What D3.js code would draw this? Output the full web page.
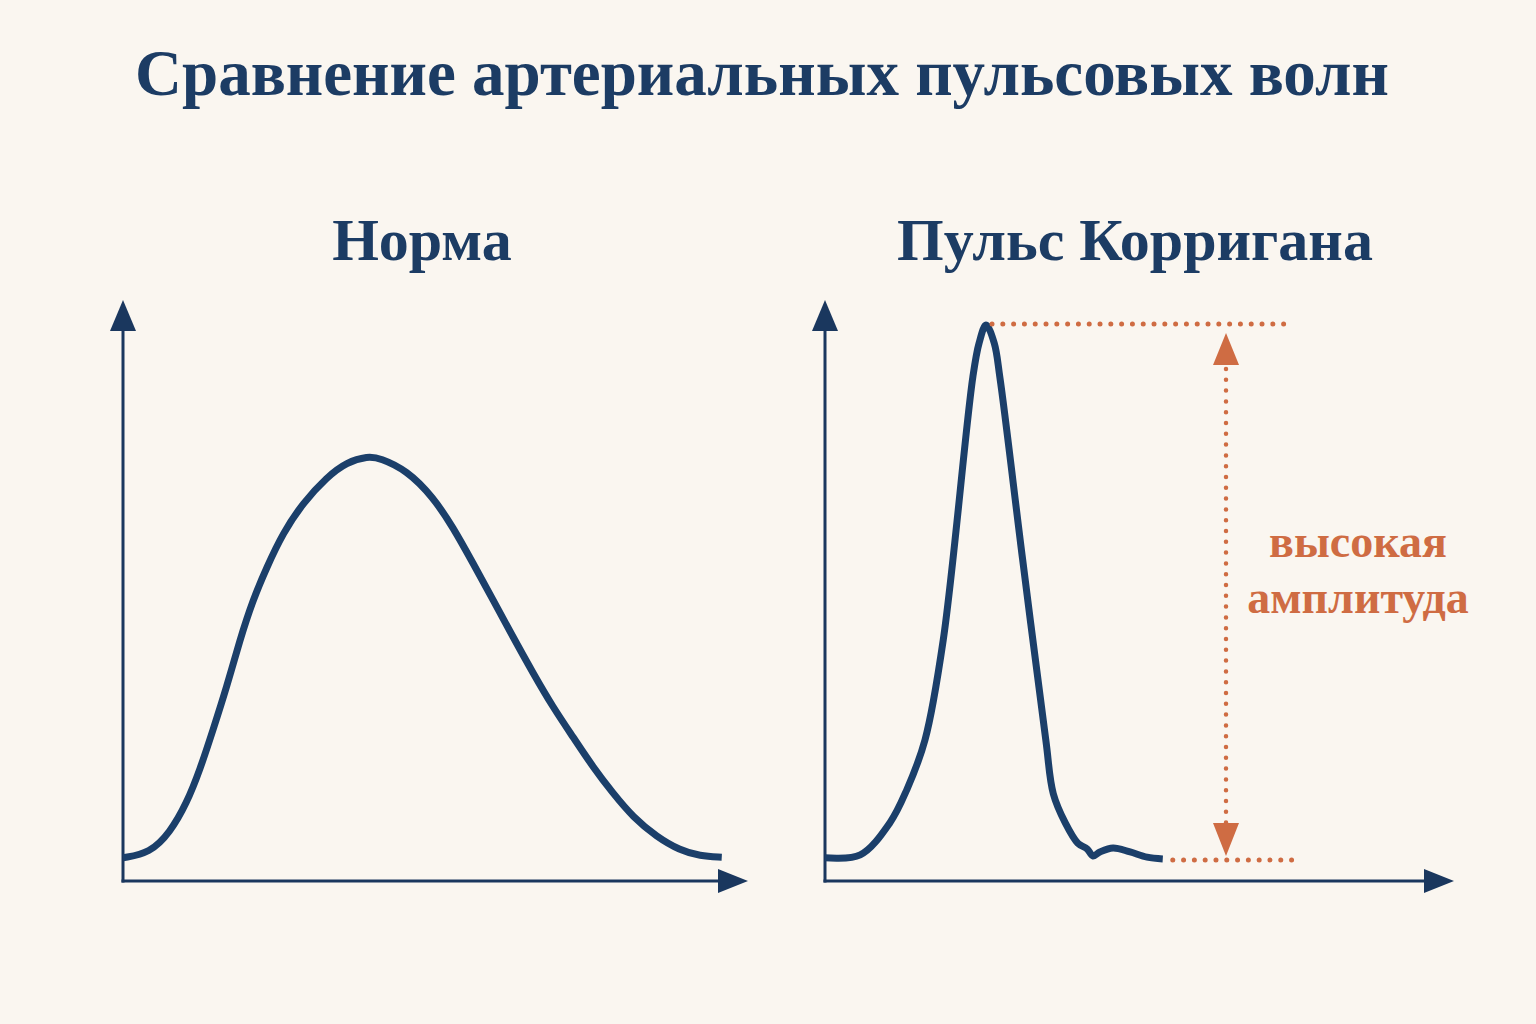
<!DOCTYPE html>
<html>
<head>
<meta charset="utf-8">
<script src="https://cdn.jsdelivr.net/npm/d3@7.9.0/dist/d3.min.js"></script>
<style>
  html, body { margin: 0; padding: 0; background: #faf6f0; }
  svg { display: block; }
  text { font-family: "Liberation Serif", "DejaVu Serif", serif; font-weight: bold; }
</style>
</head>
<body>
<svg width="1536" height="1024"></svg>
<script>
// time (0-100 of axis length) and pressure (0-100 of axis height)
const normalTime = [0, 4.3, 7.5, 10.2, 12.3, 14.4, 16.6, 18.7, 20.8, 23.0, 25.6, 28.8, 32.6, 35.8, 39.2, 41.1, 45.4, 49.6, 52.8, 56.0, 59.2, 62.4, 65.6, 68.8, 72.0, 75.2, 78.4, 81.6, 85.4, 89.1, 92.3, 95.8];
const normalValue = [4.0, 4.8, 8.3, 13.4, 19.1, 26.0, 33.4, 41.5, 48.4, 54.0, 59.9, 65.1, 69.5, 72.1, 73.1, 72.8, 70.7, 66.1, 60.9, 54.7, 48.4, 42.0, 35.8, 29.9, 24.8, 19.6, 15.1, 11.0, 7.6, 5.3, 4.3, 4.1];

const corriganTime = [0, 5.6, 10.3, 13.0, 15.9, 18.8, 23.5, 24.5, 25.6, 26.9, 27.8, 31.4, 35.1, 36.3, 38.2, 40.2, 41.7, 42.6, 43.7, 45.8, 48.5, 51.2, 53.7];
const corriganValue = [4.0, 4.5, 10.0, 15.7, 24.3, 41.5, 86.7, 92.6, 95.7, 92.6, 86.7, 55.5, 24.3, 15.0, 10.0, 6.5, 5.5, 4.3, 5.0, 5.7, 5.0, 4.1, 3.8];

const titles = ['Норма', 'Пульс Корригана'];
const mainTitle = 'Сравнение артериальных пульсовых волн';
const amplitudeLabel = ['высокая', 'амплитуда'];

const navy = '#1b3f6a';
const axisColor = '#1a375e';
const orange = '#cf6c43';

const svg = d3.select('svg');

svg.append('text')
    .attr('x', 762).attr('y', 95)
    .attr('text-anchor', 'middle')
    .attr('font-size', 65)
    .attr('fill', '#1c3c64')
    .text(mainTitle);

const y = d3.scaleLinear().domain([0, 100]).range([881, 300]);

// the smooth normal wave gets a B-spline, the sharp peak an interpolating spline
const panels = [
    { title: titles[0], cx: 422, x: d3.scaleLinear().domain([0, 100]).range([123, 748]), t: normalTime, v: normalValue, curve: d3.curveBasis },
    { title: titles[1], cx: 1135, x: d3.scaleLinear().domain([0, 100]).range([825, 1454]), t: corriganTime, v: corriganValue, curve: d3.curveCatmullRom.alpha(0.5) }
];

panels.forEach((p) => {
    const g = svg.append('g');

    g.append('text')
        .attr('x', p.cx).attr('y', 260)
        .attr('text-anchor', 'middle')
        .attr('font-size', 60)
        .attr('fill', '#1c3c64')
        .text(p.title);

    const x0 = p.x(0), x1 = p.x(100), y0 = y(0), y1 = y(100);

    // axes
    g.append('line')
        .attr('x1', x0).attr('y1', y0 + 1.5).attr('x2', x0).attr('y2', y1 + 26)
        .attr('stroke', axisColor).attr('stroke-width', 3);
    g.append('line')
        .attr('x1', x0 - 1.5).attr('y1', y0).attr('x2', x1 - 26).attr('y2', y0)
        .attr('stroke', axisColor).attr('stroke-width', 3);
    g.append('path')
        .attr('d', `M${x0},${y1} L${x0 - 13},${y1 + 31} L${x0 + 13},${y1 + 31} Z`)
        .attr('fill', axisColor);
    g.append('path')
        .attr('d', `M${x1},${y0} L${x1 - 30},${y0 - 12} L${x1 - 30},${y0 + 12} Z`)
        .attr('fill', axisColor);

    const line = d3.line().curve(p.curve);
    const pts = p.t.map((t, i) => [p.x(t), y(p.v[i])]);
    g.append('path')
        .attr('d', line(pts))
        .attr('fill', 'none')
        .attr('stroke', navy)
        .attr('stroke-width', 7)
        .attr('stroke-linecap', 'butt')
        .attr('stroke-linejoin', 'round');
});

// amplitude annotation on the right panel
const rp = panels[1];
const peakIdx = d3.maxIndex(corriganValue);
const peakY = y(corriganValue[peakIdx]);
const baseY = y(corriganValue[corriganValue.length - 1]);
const endX = rp.x(corriganTime[corriganTime.length - 1]);
const arrowX = 1226;
const dotEnd = 1293;

const ann = svg.append('g')
    .attr('stroke', orange)
    .attr('stroke-width', 5)
    .attr('stroke-linecap', 'round')
    .attr('stroke-dasharray', '0 10.8');

ann.append('line')
    .attr('x1', rp.x(corriganTime[peakIdx]) + 6).attr('y1', peakY - 1)
    .attr('x2', dotEnd).attr('y2', peakY - 1);
ann.append('line')
    .attr('x1', endX + 10).attr('y1', baseY + 1)
    .attr('x2', dotEnd).attr('y2', baseY + 1);
ann.append('line')
    .attr('x1', arrowX).attr('y1', peakY + 44)
    .attr('x2', arrowX).attr('y2', baseY - 36)
    .attr('stroke-width', 4.5);

svg.append('path')
    .attr('d', `M${arrowX},${peakY + 8} L${arrowX - 13},${peakY + 40} L${arrowX + 13},${peakY + 40} Z`)
    .attr('fill', orange);
svg.append('path')
    .attr('d', `M${arrowX},${baseY - 3} L${arrowX - 13},${baseY - 36} L${arrowX + 13},${baseY - 36} Z`)
    .attr('fill', orange);

amplitudeLabel.forEach((s, i) => {
    svg.append('text')
        .attr('x', 1358).attr('y', 557 + i * 56)
        .attr('text-anchor', 'middle')
        .attr('font-size', 46)
        .attr('fill', orange)
        .text(s);
});
</script>
</body>
</html>
